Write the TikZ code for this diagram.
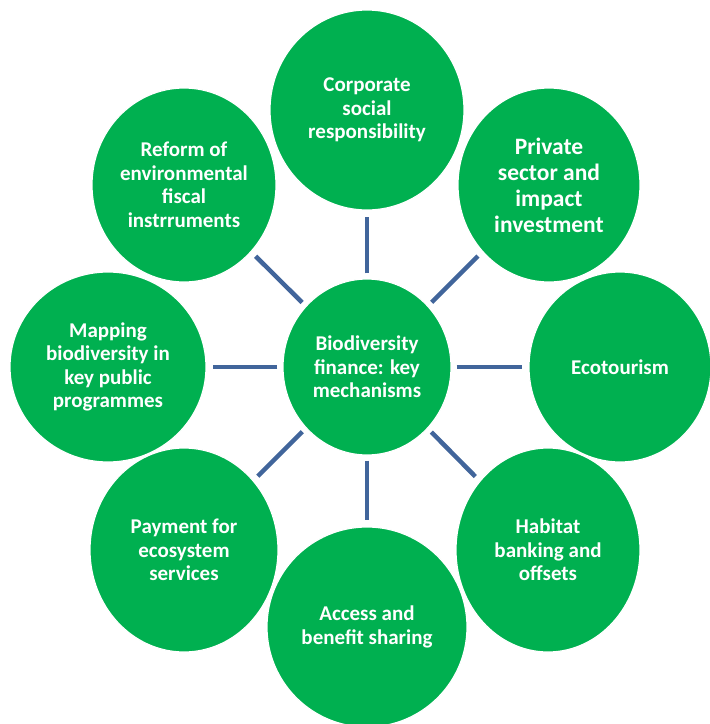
\documentclass[tikz,border=0pt]{standalone}
\usepackage{fontspec}
\setmainfont{Carlito}
\usetikzlibrary{shapes.geometric}
\definecolor{leafgreen}{HTML}{00B050}
\definecolor{spoke}{HTML}{41659B}
\begin{document}
\begin{tikzpicture}[x=1pt,y=-1pt,
  bubble/.style={ellipse, fill=leafgreen, draw=white, line width=1.2pt,
    inner sep=0pt, align=center, text=white,
    font=\bfseries\fontsize{21}{23.5}\selectfont},
  link/.style={draw=spoke, line width=4.5pt, shorten <=5pt, shorten >=6pt}]
\useasboundingbox (0,0) rectangle (710,724);

% outer mechanisms
\node[bubble, minimum width=194pt, minimum height=200pt] (csr) at (367,110)
  {Corporate\\social\\responsibility};
\node[bubble, minimum width=182pt, minimum height=194pt,
  font=\bfseries\fontsize{23.5}{26}\selectfont] (pvt) at (549,185)
  {Private\\sector and\\impact\\investment};
\node[bubble, minimum width=182pt, minimum height=190pt] (eco) at (620,367)
  {Ecotourism};
\node[bubble, minimum width=184pt, minimum height=204pt] (hab) at (548,550)
  {Habitat\\banking and\\offsets};
\node[bubble, minimum width=200pt, minimum height=200pt] (abs) at (367,627)
  {Access and\\benefit sharing};
\node[bubble, minimum width=188pt, minimum height=204pt] (pes) at (184,550)
  {Payment for\\ecosystem\\services};
\node[bubble, minimum width=196pt, minimum height=190pt] (map) at (108,367)
  {Mapping\\biodiversity in\\key public\\programmes};
\node[bubble, minimum width=184pt, minimum height=194pt] (ref) at (184,185)
  {Reform of\\environmental\\fiscal\\instrruments};

% central hub
\node[bubble, minimum width=168pt, minimum height=176pt] (hub) at (367,367)
  {Biodiversity\\finance: key\\mechanisms};

% spokes
\foreach \o in {csr,pvt,eco,hab,abs,pes,map,ref}
  \draw[link] (hub) -- (\o);
\end{tikzpicture}
\end{document}
